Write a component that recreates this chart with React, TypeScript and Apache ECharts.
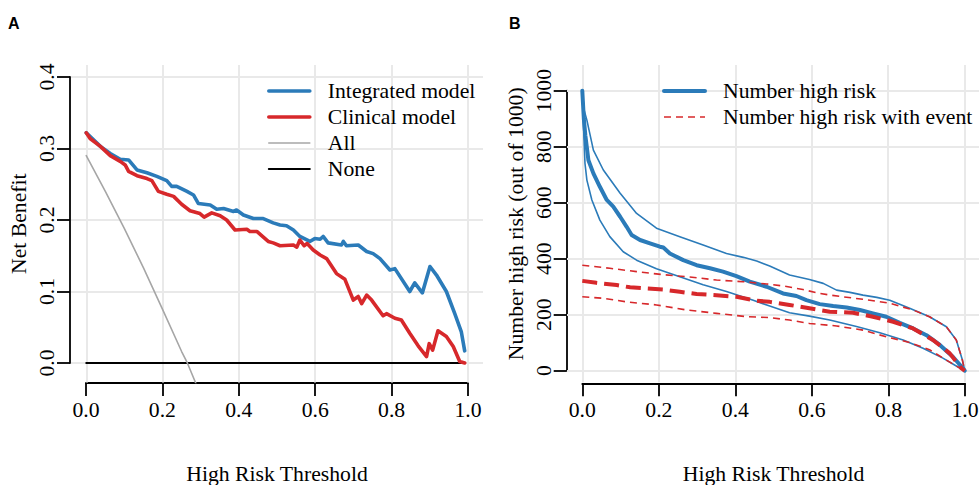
import React, { useEffect, useRef } from "react";
import * as echarts from "echarts";

// ---------- Data ----------
const xTicks = [0, 0.2, 0.4, 0.6, 0.8, 1.0];
const xTickLabels = ["0.0", "0.2", "0.4", "0.6", "0.8", "1.0"];
const yTicksA = [0, 0.1, 0.2, 0.3, 0.4];
const yTickLabelsA = ["0.0", "0.1", "0.2", "0.3", "0.4"];
const yTicksB = [0, 200, 400, 600, 800, 1000];
const yTickLabelsB = ["0", "200", "400", "600", "800", "1000"];

// Panel A: decision curves
const integratedT = [0, 0.037, 0.063, 0.089, 0.111, 0.133, 0.159, 0.185, 0.211, 0.224, 0.237, 0.264, 0.281, 0.294, 0.325, 0.342, 0.36, 0.386, 0.394, 0.412, 0.438, 0.464, 0.49, 0.508, 0.525, 0.543, 0.56, 0.586, 0.599, 0.613, 0.621, 0.634, 0.669, 0.674, 0.682, 0.713, 0.735, 0.752, 0.77, 0.796, 0.809, 0.848, 0.861, 0.881, 0.901, 0.918, 0.944, 0.966, 0.983, 0.992];
const integratedNB = [0.322, 0.303, 0.293, 0.285, 0.284, 0.27, 0.266, 0.261, 0.255, 0.247, 0.247, 0.24, 0.235, 0.223, 0.221, 0.215, 0.216, 0.212, 0.214, 0.207, 0.202, 0.202, 0.196, 0.193, 0.192, 0.186, 0.177, 0.17, 0.174, 0.173, 0.177, 0.168, 0.165, 0.17, 0.164, 0.165, 0.156, 0.153, 0.146, 0.13, 0.132, 0.1, 0.112, 0.098, 0.135, 0.123, 0.1, 0.069, 0.044, 0.017];

const clinicalT = [0, 0.01, 0.037, 0.063, 0.089, 0.102, 0.111, 0.133, 0.159, 0.172, 0.189, 0.211, 0.229, 0.25, 0.272, 0.298, 0.309, 0.329, 0.351, 0.368, 0.39, 0.421, 0.429, 0.447, 0.477, 0.49, 0.508, 0.543, 0.552, 0.56, 0.571, 0.579, 0.595, 0.613, 0.63, 0.656, 0.678, 0.7, 0.713, 0.722, 0.735, 0.748, 0.778, 0.787, 0.809, 0.826, 0.848, 0.87, 0.892, 0.899, 0.908, 0.922, 0.944, 0.962, 0.979, 0.992];
const clinicalNB = [0.322, 0.314, 0.303, 0.29, 0.282, 0.277, 0.268, 0.262, 0.258, 0.255, 0.24, 0.236, 0.233, 0.222, 0.213, 0.209, 0.204, 0.21, 0.206, 0.2, 0.186, 0.187, 0.184, 0.184, 0.17, 0.168, 0.164, 0.165, 0.162, 0.172, 0.164, 0.167, 0.158, 0.151, 0.146, 0.125, 0.117, 0.088, 0.093, 0.083, 0.095, 0.088, 0.066, 0.069, 0.0625, 0.06, 0.0415, 0.024, 0.009, 0.027, 0.018, 0.045, 0.037, 0.023, 0.002, 0];

const allT = [0, 0.05, 0.1, 0.15, 0.2, 0.25, 0.265, 0.29];
const allNB = [0.29, 0.24, 0.188, 0.133, 0.075, 0.016, 0, -0.032];

const noneT = [0, 0.99];
const noneNB = [0, 0];

// Panel B: clinical impact curves [threshold, number out of 1000]
const highRisk = [[0, 1000], [0.004, 900], [0.008, 840], [0.016, 752], [0.029, 705], [0.046, 657], [0.064, 610], [0.081, 586], [0.099, 550], [0.116, 514], [0.129, 485], [0.151, 467], [0.177, 455], [0.203, 443], [0.212, 440], [0.229, 419], [0.264, 395], [0.299, 377], [0.334, 366], [0.368, 354], [0.403, 338], [0.438, 318], [0.482, 300], [0.525, 276], [0.56, 267], [0.586, 252], [0.621, 238], [0.656, 231], [0.691, 226], [0.726, 217], [0.76, 205], [0.795, 193], [0.83, 171], [0.865, 151], [0.9, 127], [0.935, 92], [0.969, 50], [0.996, 8], [1, 0]];
const highRiskUpper = [[0, 1000], [0.005, 930], [0.012, 895], [0.029, 788], [0.055, 717], [0.099, 634], [0.142, 562], [0.194, 509], [0.255, 479], [0.316, 449], [0.377, 419], [0.421, 405], [0.456, 392], [0.49, 374], [0.542, 342], [0.594, 326], [0.63, 312], [0.665, 288], [0.7, 280], [0.734, 270], [0.77, 262], [0.804, 252], [0.856, 223], [0.908, 193], [0.952, 157], [0.978, 110], [0.994, 38], [1, 0]];
const highRiskLower = [[0, 1000], [0.003, 880], [0.007, 741], [0.012, 681], [0.025, 610], [0.046, 538], [0.072, 479], [0.107, 425], [0.142, 395], [0.194, 364], [0.255, 336], [0.316, 307], [0.377, 283], [0.447, 252], [0.49, 231], [0.542, 207], [0.594, 195], [0.647, 181], [0.717, 158], [0.778, 136], [0.839, 110], [0.891, 80], [0.943, 45], [0.978, 17], [1, 0]];
const withEvent = [[0, 321], [0.037, 314], [0.09, 306], [0.125, 298], [0.168, 294], [0.212, 290], [0.255, 282], [0.299, 274], [0.351, 270], [0.403, 264], [0.456, 250], [0.49, 246], [0.542, 235], [0.594, 223], [0.647, 211], [0.708, 207], [0.76, 193], [0.813, 175], [0.865, 151], [0.917, 110], [0.961, 62], [0.991, 9], [1, 0]];
const withEventUpper = [[0, 377], [0.072, 366], [0.142, 354], [0.212, 343], [0.281, 335], [0.351, 324], [0.421, 318], [0.482, 310], [0.53, 302], [0.577, 290], [0.621, 276], [0.65, 270], [0.682, 264], [0.752, 252], [0.804, 241], [0.865, 217], [0.908, 193], [0.952, 157], [0.978, 110], [0.994, 38], [1, 0]];
const withEventLower = [[0, 264], [0.055, 259], [0.116, 246], [0.194, 235], [0.273, 217], [0.351, 205], [0.43, 193], [0.49, 190], [0.542, 181], [0.594, 169], [0.665, 160], [0.734, 145], [0.795, 121], [0.856, 101], [0.908, 75], [0.952, 38], [0.982, 14], [1, 0]];

// ---------- Styles ----------
const SERIF = '"Liberation Serif", "Times New Roman", serif';
const FS = 21.7;
const BLUE = "#2b7bb9";
const RED = "#d7282b";
const GRAY = "#a6a6a6";
const GRID = "#e9e9e9";

const labelFrom = (ticks: number[], labels: string[]) => (v: number) => {
  let best = 0;
  for (let i = 0; i < ticks.length; i++) {
    if (Math.abs(ticks[i] - v) < Math.abs(ticks[best] - v)) best = i;
  }
  return labels[best];
};

const zip = (xs: number[], ys: number[]) => xs.map((x, i) => [x, ys[i]]);

const axisLineStyle = { color: "#000", width: 1.8 };
const tickText = { fontFamily: SERIF, fontSize: FS, color: "#000" };

function buildOption() {
  const g = (left: number, top: number, width: number, height: number) => ({
    left, top, width, height, outerBoundsMode: "none", containLabel: false,
  });
  const grids = [
    g(71, 65, 412, 317.5), // 0 A data
    g(86, 382, 382, 1), // 1 A x axis
    g(70, 77, 1, 286), // 2 A y axis
    g(567, 65, 413, 317.5), // 3 B data
    g(582.3, 382.3, 382.7, 1), // 4 B x axis
    g(566.7, 90.7, 1, 280), // 5 B y axis
  ];

  const hidden = (gridIndex: number) => ({ gridIndex, type: "value", show: false, min: 0, max: 1 });

  const dataX = (gridIndex: number) => ({
    gridIndex,
    type: "value",
    min: -0.04,
    max: 1.04,
    axisLine: { show: false },
    axisTick: { show: false },
    axisLabel: { show: false },
    splitLine: { show: false },
    name: "High Risk Threshold",
    nameLocation: "middle",
    nameGap: 80,
    nameTextStyle: { fontFamily: SERIF, fontSize: FS, color: "#000" },
  });

  const tickX = (gridIndex: number) => ({
    gridIndex,
    type: "value",
    position: "bottom",
    min: 0,
    max: 1,
    interval: 0.2,
    axisLine: { show: true, onZero: false, lineStyle: axisLineStyle },
    axisTick: { show: true, length: 13, lineStyle: axisLineStyle },
    axisLabel: { show: true, margin: 16, ...tickText, formatter: labelFrom(xTicks, xTickLabels) },
    splitLine: { show: false },
  });

  const legendBase = {
    orient: "vertical",
    top: 78,
    padding: 0,
    itemGap: 0,
    itemWidth: 41,
    itemHeight: 14,
    selectedMode: false,
    itemStyle: { opacity: 0 },
    lineStyle: { width: "inherit", type: "inherit", color: "inherit" },
    textStyle: { fontFamily: SERIF, fontSize: FS, color: "#000", lineHeight: 26, padding: [0, 0, 0, 13] },
  };

  const option: any = {
    animation: false,
    backgroundColor: "#fff",
    grid: grids,
    xAxis: [dataX(0), tickX(1), hidden(2), dataX(3), tickX(4), hidden(5)],
    yAxis: [
      {
        gridIndex: 0,
        type: "value",
        min: -0.0273,
        max: 0.4168,
        axisLine: { show: false },
        axisTick: { show: false },
        axisLabel: { show: false },
        splitLine: { show: false },
        name: "Net Benefit",
        nameLocation: "middle",
        nameGap: 41,
        nameTextStyle: { fontFamily: SERIF, fontSize: FS, color: "#000" },
      },
      hidden(1),
      {
        gridIndex: 2,
        type: "value",
        position: "left",
        min: 0,
        max: 0.4,
        interval: 0.1,
        axisLine: { show: true, onZero: false, lineStyle: axisLineStyle },
        axisTick: { show: true, length: 13, lineStyle: axisLineStyle },
        axisLabel: { show: true, rotate: 90, margin: 12, ...tickText, formatter: labelFrom(yTicksA, yTickLabelsA) },
        splitLine: { show: false },
      },
      {
        gridIndex: 3,
        type: "value",
        min: -42,
        max: 1092,
        axisLine: { show: false },
        axisTick: { show: false },
        axisLabel: { show: false },
        splitLine: { show: false },
        name: "Number high risk (out of 1000)",
        nameLocation: "middle",
        nameGap: 40,
        nameTextStyle: { fontFamily: SERIF, fontSize: FS, color: "#000" },
      },
      hidden(4),
      {
        gridIndex: 5,
        type: "value",
        position: "left",
        min: 0,
        max: 1000,
        interval: 200,
        axisLine: { show: true, onZero: false, lineStyle: axisLineStyle },
        axisTick: { show: true, length: 13, lineStyle: axisLineStyle },
        axisLabel: { show: true, rotate: 90, margin: 12, ...tickText, formatter: labelFrom(yTicksB, yTickLabelsB) },
        splitLine: { show: false },
      },
    ],
    legend: [
      { ...legendBase, left: 267, data: ["Integrated model", "Clinical model", "All", "None"] },
      { ...legendBase, left: 662, data: ["Number high risk", "Number high risk with event"] },
    ],
    graphic: [
      { type: "text", left: 8, top: 15, style: { text: "A", font: 'bold 16px "Liberation Sans", Arial, sans-serif', fill: "#000" } },
      { type: "text", left: 509, top: 15, style: { text: "B", font: 'bold 16px "Liberation Sans", Arial, sans-serif', fill: "#000" } },
    ],
    series: [] as any[],
  };

  const gridMarks = (yTicks: number[]) => ({
    silent: true,
    symbol: ["none", "none"],
    label: { show: false },
    z: 1,
    lineStyle: { color: GRID, width: 2, type: "solid" },
    emphasis: { disabled: true },
    data: [...xTicks.map((v) => ({ xAxis: v })), ...yTicks.map((v) => ({ yAxis: v }))],
  });

  const lineSeries = (name: string, gridAxis: number, data: number[][], color: string, width: number, type: any = "solid", extra: any = {}) => ({
    type: "line",
    name,
    xAxisIndex: gridAxis,
    yAxisIndex: gridAxis,
    data,
    symbol: "none",
    showSymbol: false,
    z: 10,
    silent: true,
    lineStyle: { color, width, type, join: "round", cap: type === "solid" ? "round" : "butt" },
    itemStyle: { color },
    emphasis: { disabled: true },
    ...extra,
  });

  option.series.push(
    lineSeries("None", 0, zip(noneT, noneNB), "#000", 2, "solid", { markLine: gridMarks(yTicksA) }),
    lineSeries("All", 0, zip(allT, allNB), GRAY, 1.6),
    lineSeries("Integrated model", 0, zip(integratedT, integratedNB), BLUE, 3.6),
    lineSeries("Clinical model", 0, zip(clinicalT, clinicalNB), RED, 3.6),
    lineSeries("Number high risk", 3, highRisk, BLUE, 4, "solid", { markLine: gridMarks(yTicksB) }),
    lineSeries("Number high risk", 3, highRiskUpper, BLUE, 1.6),
    lineSeries("Number high risk", 3, highRiskLower, BLUE, 1.6),
    lineSeries("Number high risk with event", 3, withEventUpper, RED, 1.6, [7, 5]),
    lineSeries("Number high risk with event", 3, withEvent, RED, 4, [15, 7]),
    lineSeries("Number high risk with event", 3, withEventLower, RED, 1.6, [7, 5])
  );

  return option;
}

export default function App() {
  const ref = useRef<HTMLDivElement>(null);
  useEffect(() => {
    if (!ref.current) return;
    const chart = echarts.init(ref.current, undefined, { renderer: "svg" });
    chart.setOption(buildOption());
    return () => chart.dispose();
  }, []);
  return (
    <div
      ref={ref}
      style={{ position: "absolute", left: 0, top: 0, width: 979, height: 485, background: "#fff" }}
    />
  );
}
